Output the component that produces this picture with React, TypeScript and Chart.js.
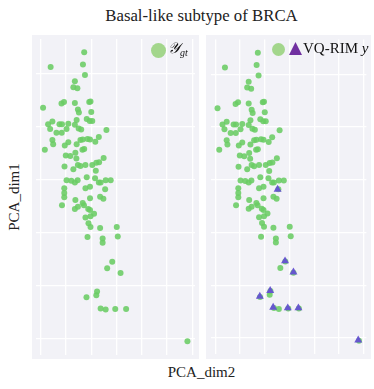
import React, { useEffect, useRef } from "react";
import { Chart, registerables } from "chart.js";
Chart.register(...registerables);

// Ground-truth points (PCA_dim2, PCA_dim1)
const gtX = [1.72,0.39,1.67,1.75,1.35,1.29,1.45,0.09,0.82,0.92,1.35,1.92,1.97,1.47,1.51,2.0,1.82,1.94,2.04,1.42,0.29,0.46,0.74,0.84,1.09,1.35,0.37,1.02,1.50,1.60,2.60,0.62,0.83,0.46,0.49,1.09,0.95,1.42,1.57,1.66,1.85,1.95,2.30,2.16,0.16,1.65,1.72,1.37,0.99,1.17,1.41,2.49,0.94,1.29,1.47,1.57,1.77,2.04,2.20,2.31,2.18,1.02,1.21,1.35,1.46,1.82,2.15,2.30,2.37,2.57,2.77,0.93,1.77,1.95,2.55,0.93,0.93,1.37,1.95,2.35,2.48,0.84,1.66,1.71,1.35,1.47,1.88,1.95,2.11,1.97,1.77,1.89,1.97,2.35,3.01,1.85,2.45,3.05,2.45,2.83,2.63,3.16,2.23,2.20,1.81,2.37,2.57,2.95,3.38,5.81];
const gtY = [5.41,5.13,5.18,4.98,4.86,4.75,4.73,4.36,4.44,4.47,4.45,4.47,4.48,4.33,4.27,4.28,4.15,4.11,4.11,4.13,4.05,4.10,4.05,4.05,4.06,4.04,3.96,3.96,3.97,3.95,3.94,3.89,3.89,3.75,3.67,3.71,3.65,3.67,3.75,3.76,3.77,3.76,3.81,3.72,3.57,3.57,3.58,3.51,3.46,3.45,3.40,3.41,3.25,3.20,3.28,3.26,3.28,3.28,3.32,3.33,3.17,2.99,2.98,2.95,2.99,3.05,3.03,2.95,2.95,2.99,2.99,2.84,2.84,2.87,2.82,2.75,2.67,2.62,2.65,2.68,2.64,2.52,2.56,2.52,2.45,2.49,2.45,2.43,2.36,2.31,2.29,2.18,2.11,2.09,2.11,1.92,1.89,1.93,1.81,1.45,1.33,1.24,0.89,0.82,0.78,0.57,0.55,0.56,0.56,-0.05];

// VQ-RIM detected points
const predX = [2.52,2.82,3.16,2.22,1.80,2.34,2.93,3.36,5.78];
const predY = [2.82,1.46,1.25,0.90,0.79,0.58,0.57,0.57,-0.04];

const X_MIN = -0.19, X_MAX = 6.11, Y_MIN = -0.31, Y_MAX = 5.66;
const SERIF = '"Liberation Serif", "DejaVu Serif", serif';

function Panel({ left, width, showPred }: { left: number; width: number; showPred: boolean }) {
  const ref = useRef<HTMLCanvasElement | null>(null);
  useEffect(() => {
    const datasets: any[] = [
      {
        label: "gt",
        data: gtX.map((x, i) => ({ x, y: gtY[i] })),
        backgroundColor: "rgba(106,204,100,0.88)",
        borderWidth: 0,
        pointRadius: 3,
        pointStyle: "circle",
        order: 2,
      },
    ];
    if (showPred) {
      datasets.push({
        label: "pred",
        data: predX.map((x, i) => ({ x, y: predY[i] })),
        backgroundColor: "rgba(100,80,210,0.95)",
        borderWidth: 0,
        pointRadius: 4.6,
        pointStyle: "triangle",
        order: 1,
      });
    }
    const bg = {
      id: "bg",
      beforeDraw(c: any) {
        const ctx = c.ctx;
        ctx.save();
        ctx.fillStyle = "#F2F2F7";
        ctx.fillRect(0, 0, c.width, c.height);
        ctx.restore();
      },
    };
    const axis = (min: number, max: number) => ({
      type: "linear" as const,
      min,
      max,
      ticks: { display: false, stepSize: 1, includeBounds: false },
      grid: { color: "#ffffff", lineWidth: 1.3, drawTicks: false },
      border: { display: false },
    });
    const chart = new Chart(ref.current!, {
      type: "scatter",
      data: { datasets },
      options: {
        responsive: false,
        animation: false,
        layout: { padding: 0 },
        plugins: { legend: { display: false }, tooltip: { enabled: false } },
        scales: { x: axis(X_MIN, X_MAX), y: axis(Y_MIN, Y_MAX) },
      },
      plugins: [bg],
    });
    return () => chart.destroy();
  }, []);
  return (
    <canvas
      ref={ref}
      width={width}
      height={324}
      style={{ position: "absolute", left, top: 35, width, height: 324 }}
    />
  );
}

export default function App() {
  return (
    <div style={{ position: "absolute", left: 0, top: 0, width: 374, height: 389, background: "#fff", fontFamily: SERIF }}>
      <div style={{ position: "absolute", left: 32, width: 339, top: 6, textAlign: "center", fontSize: 16.8, color: "#222" }}>
        Basal-like subtype of BRCA
      </div>
      <Panel left={32} width={167} showPred={false} />
      <Panel left={206} width={165} showPred={true} />
      {/* left legend */}
      <div style={{ position: "absolute", left: 151, top: 43, width: 15, height: 15, borderRadius: "50%", background: "#A3D68C" }} />
      <div style={{ position: "absolute", left: 168, top: 40, fontSize: 15, color: "#111", whiteSpace: "nowrap" }}>
        <span style={{ fontStyle: "italic" }}>𝒴</span>
        <sub style={{ fontSize: 10, fontStyle: "italic", verticalAlign: "-3px" }}>gt</sub>
      </div>
      {/* right legend */}
      <div style={{ position: "absolute", left: 272, top: 43, width: 13, height: 13, borderRadius: "50%", background: "#A3D68C" }} />
      <svg style={{ position: "absolute", left: 289, top: 42 }} width={13} height={13}>
        <polygon points="6.5,0 13,13 0,13" fill="#7030A0" />
      </svg>
      <div style={{ position: "absolute", left: 303, top: 40, fontSize: 15, color: "#111", whiteSpace: "nowrap" }}>
        VQ-RIM <span style={{ fontStyle: "italic" }}>y</span>
      </div>
      <div style={{ position: "absolute", left: 32, width: 339, top: 364, textAlign: "center", fontSize: 15, color: "#222" }}>
        PCA_dim2
      </div>
      <div
        style={{
          position: "absolute",
          left: 14,
          top: 197,
          transform: "translate(-50%, -50%) rotate(-90deg)",
          fontSize: 15,
          color: "#222",
          whiteSpace: "nowrap",
        }}
      >
        PCA_dim1
      </div>
    </div>
  );
}
